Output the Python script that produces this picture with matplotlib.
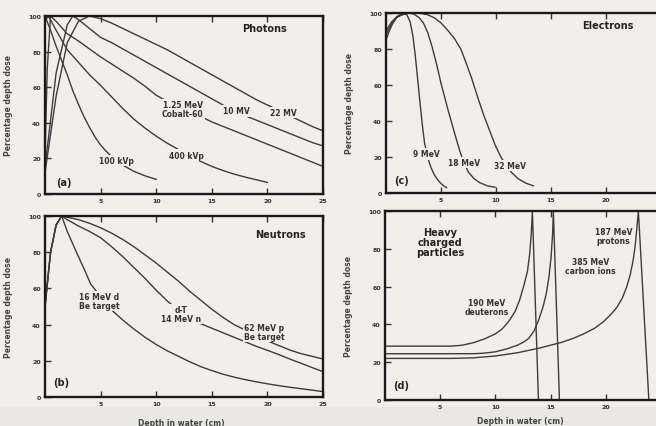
import matplotlib
matplotlib.use("Agg")
import matplotlib.pyplot as plt
from matplotlib.patches import Rectangle

# ---------------- data ----------------
# (a) Photons
ph_100kvp_x = [0, 0.5, 1, 1.5, 2, 2.5, 3, 3.5, 4, 4.5, 5, 5.5, 6, 6.5, 7, 8, 9, 10]
ph_100kvp_y = [100, 92, 83, 75, 67, 58, 50.5, 43.5, 37.5, 32, 27.5, 24, 21, 18.5, 16.2, 12.7, 10.2, 8.2]
ph_400kvp_x = [0, 0.3, 1, 2, 3, 4, 5, 6, 7, 8, 9, 10, 11, 12, 13, 14, 15, 16, 17, 18, 19, 20]
ph_400kvp_y = [97, 100, 92, 81, 74, 67, 61, 54.5, 48, 42, 37, 32.5, 28.5, 25, 21.5, 18.3, 15.5, 13.2, 11.2, 9.5, 8, 6.5]
ph_co60_x = [0, 0.2, 0.5, 1, 2, 3, 4, 5, 6, 7, 8, 9, 10, 11, 12, 13, 14, 15, 16, 17, 18, 19, 20, 21, 22, 23, 24, 25]
ph_co60_y = [22, 70, 100, 97, 90, 86, 81.5, 77, 73, 69, 65, 60.5, 55.5, 52, 49, 46, 43.5, 40.5, 38, 35.5, 33, 30.5, 28, 25.5, 23, 20.5, 18, 15.5]
ph_10mv_x = [0, 1, 2, 2.5, 3, 4, 5, 6, 7, 8, 9, 10, 11, 12, 13, 14, 15, 16, 17, 18, 19, 20, 21, 22, 23, 24, 25]
ph_10mv_y = [15, 68, 95, 100, 98, 93, 88, 85, 81.5, 78, 74.5, 71, 67.5, 64, 60.5, 57, 53.5, 50, 47, 44, 41.5, 39, 36.5, 34, 31.5, 29, 27]
ph_22mv_x = [0, 1, 2, 3, 4, 5, 6, 7, 8, 9, 10, 11, 12, 13, 14, 15, 16, 17, 18, 19, 20, 21, 22, 23, 24, 25]
ph_22mv_y = [12, 55, 85, 97, 100, 98.5, 96, 93, 90, 87, 84, 81, 77.5, 74, 70.5, 67, 63.5, 60, 56.5, 53, 50, 47, 44, 41, 38, 35.5]

# (b) Neutrons
n_16d_x = [0, 0.5, 1, 1.5, 2, 2.9, 3.5, 4.1, 5, 6, 7, 8, 9, 10, 11, 12, 13, 14, 15, 16, 17, 18, 19, 20, 21, 22, 23, 24, 25]
n_16d_y = [50, 80, 95, 100, 91.5, 79, 71, 62.5, 55.5, 48, 42.5, 37.5, 33, 29, 25.5, 22.5, 19.5, 16.8, 14.6, 12.6, 11, 9.6, 8.4, 7.3, 6.3, 5.4, 4.6, 3.8, 3]
n_dt_x = [0, 0.5, 1, 1.5, 2, 3, 4, 5, 6, 7, 8, 9, 10, 11, 12, 13, 14, 15, 16, 17, 18, 19, 20, 21, 22, 23, 24, 25]
n_dt_y = [50, 80, 95, 100, 98, 94.5, 91.5, 88, 83, 77.5, 71.5, 65.5, 59, 53, 48, 44, 40.5, 38, 35.5, 33, 30.5, 28, 25.8, 23.5, 21, 18.7, 16.3, 14]
n_62p_x = [0, 0.5, 1, 1.5, 3, 4, 5, 6, 7, 8, 9, 10, 11, 12, 13, 14, 15, 16, 17, 18, 19, 20, 21, 22, 23, 24, 25]
n_62p_y = [50, 80, 95, 100, 98, 96, 93.5, 90.5, 87, 83, 78.5, 74, 69, 64, 58.5, 53.5, 48.5, 44, 40, 37, 34, 31, 28.5, 26, 24, 22.5, 21]

# (c) Electrons
e_9_x = [0, 0.3, 0.6, 1, 1.5, 1.9, 2.2, 2.45, 2.65, 2.85, 3.06, 3.3, 3.5, 3.7, 3.9, 4.1, 4.4, 4.8, 5.2, 5.5]
e_9_y = [85, 90, 94, 98, 100, 99, 95, 87, 77, 65, 52, 38, 28, 22, 17.5, 14, 10, 6.5, 4.2, 3]
e_18_x = [0, 0.5, 1, 1.5, 2, 2.5, 3, 3.4, 3.8, 4.2, 4.6, 5, 5.6, 6.2, 6.7, 7.1, 7.5, 8, 8.5, 9.2, 9.9]
e_18_y = [88, 94, 97.5, 99.3, 100, 99.5, 97.5, 94.5, 89, 81, 71.5, 61, 47, 34, 23.5, 16.5, 11.5, 8, 5.8, 4, 3.2]
e_32_x = [0, 0.5, 1, 2, 3, 3.8, 4.4, 5, 5.6, 6.2, 6.8, 7.3, 7.8, 8.4, 8.9, 9.4, 9.9, 10.4, 10.9, 11.4, 12, 12.7, 13.4]
e_32_y = [90, 95, 98, 100, 100, 99, 97.3, 94.5, 90.5, 86, 80, 72, 63.5, 52, 43, 35, 27, 20.5, 15.5, 11.5, 8, 5.5, 4]

# (d) Heavy charged particles
h_d_x = [0, 2, 4, 6, 7, 8, 9, 10, 10.6, 11.2, 11.8, 12.2, 12.6, 12.9, 13.1, 13.25, 13.35, 13.9]
h_d_y = [28.5, 28.5, 28.5, 28.5, 29, 30.3, 32.3, 35, 37.5, 41.5, 47, 53, 61, 68, 77, 88, 100, 0]
h_c_x = [0, 2, 4, 6, 8, 9, 10, 11, 12, 12.6, 13, 13.5, 13.9, 14.3, 14.6, 14.85, 15.05, 15.18, 15.25, 15.8]
h_c_y = [24.5, 24.5, 24.5, 24.5, 24.5, 24.8, 25.5, 27, 29, 30.8, 32.5, 36.5, 42, 49, 56, 65, 76, 88, 100, 0]
h_p_x = [0, 4, 6, 8, 10, 12, 14, 16, 17, 18, 19, 19.8, 20.5, 21, 21.5, 21.9, 22.2, 22.45, 22.65, 22.8, 22.95, 23.9]
h_p_y = [22, 22, 22, 22.3, 23.3, 25, 27.5, 30.5, 32.5, 35, 38, 41.5, 45.5, 49, 54, 60, 66, 73, 81, 90, 100, 0]

x_ticks = [5, 10, 15, 20, 25]
y_ticks = [0, 20, 40, 60, 80, 100]

# ---------------- style ----------------
BG = "#f2efeb"
LC = "#3c3c3c"
FONT = "DejaVu Sans"
plt.rcParams["font.family"] = FONT

fig = plt.figure(figsize=(6.56, 4.27), dpi=100, facecolor=BG)
fig.patches.append(Rectangle((0, 0), 1, 19 / 427, transform=fig.transFigure,
                             facecolor="#e9e8e5", edgecolor="none", zorder=-5))


def setup(ax, xlabel=False, label_y=-0.115):
    ax.set_facecolor(BG)
    ax.set_xlim(0, 25)
    ax.set_ylim(0, 100)
    ax.set_xticks(x_ticks)
    ax.set_yticks(y_ticks)
    ax.tick_params(direction="in", length=4, width=1, top=True, right=False,
                   labelsize=4.5, colors="#333333", pad=3)
    for lab in ax.get_xticklabels() + ax.get_yticklabels():
        lab.set_fontweight("bold")
    for s in ax.spines.values():
        s.set_linewidth(1.7)
        s.set_color("#1a1a1a")
    ax.set_ylabel("Percentage depth dose", fontsize=5.5, fontweight="bold", color="#444444")
    ax.yaxis.set_label_coords(-0.115, 0.5)
    if xlabel:
        ax.set_xlabel("Depth in water (cm)", fontsize=5.5, fontweight="bold", color="#444444")
        ax.xaxis.set_label_coords(0.49, label_y)


def curve(ax, x, y):
    ax.plot(x, y, color=LC, lw=1.0, solid_joinstyle="round")


def label(ax, x, y, s, size=5.5):
    ax.text(x, y, s, fontsize=size, fontweight="bold", color="#333333",
            ha="center", va="center", linespacing=1.0, zorder=5,
            bbox=dict(boxstyle="square,pad=0.15", fc=BG, ec="none"))


def title(ax, x, y, s):
    ax.text(x, y, s, fontsize=7, fontweight="bold", color="#222222",
            ha="center", va="center", linespacing=1.0, zorder=5)


# (a)
ax_a = fig.add_axes([45 / 656, 1 - 195 / 427, 278 / 656, 178 / 427])
setup(ax_a)
for xs, ys in [(ph_100kvp_x, ph_100kvp_y), (ph_400kvp_x, ph_400kvp_y),
               (ph_co60_x, ph_co60_y), (ph_10mv_x, ph_10mv_y), (ph_22mv_x, ph_22mv_y)]:
    curve(ax_a, xs, ys)
label(ax_a, 6.4, 18.7, "100 kVp")
label(ax_a, 12.7, 21.9, "400 kVp")
label(ax_a, 12.4, 47.5, "1.25 MeV\nCobalt-60")
label(ax_a, 17.2, 46.7, "10 MV")
label(ax_a, 21.4, 45.8, "22 MV")
title(ax_a, 19.7, 93.5, "Photons")
title(ax_a, 1.7, 6.5, "(a)")

# (b)
ax_b = fig.add_axes([45 / 656, 1 - 398 / 427, 278 / 656, 181 / 427])
setup(ax_b, xlabel=True, label_y=-0.115)
for xs, ys in [(n_16d_x, n_16d_y), (n_dt_x, n_dt_y), (n_62p_x, n_62p_y)]:
    curve(ax_b, xs, ys)
label(ax_b, 4.9, 53.2, "16 MeV d\nBe target")
label(ax_b, 12.2, 45.9, "d-T\n14 MeV n")
label(ax_b, 19.7, 35.8, "62 MeV p\nBe target")
title(ax_b, 21.2, 89.9, "Neutrons")
title(ax_b, 1.5, 8.3, "(b)")

# (c)
ax_c = fig.add_axes([386 / 656, 1 - 194 / 427, 275 / 656, 180 / 427])
setup(ax_c)
for xs, ys in [(e_9_x, e_9_y), (e_18_x, e_18_y), (e_32_x, e_32_y)]:
    curve(ax_c, xs, ys)
label(ax_c, 3.7, 21.7, "9 MeV")
label(ax_c, 7.1, 17.1, "18 MeV")
label(ax_c, 11.3, 15.3, "32 MeV")
title(ax_c, 20.2, 93.6, "Electrons")
title(ax_c, 1.4, 7, "(c)")

# (d)
ax_d = fig.add_axes([385 / 656, 1 - 401 / 427, 276 / 656, 189 / 427])
setup(ax_d, xlabel=True, label_y=-0.085)
for xs, ys in [(h_d_x, h_d_y), (h_c_x, h_c_y), (h_p_x, h_p_y)]:
    curve(ax_d, xs, ys)
title(ax_d, 5.0, 83.6, "Heavy\ncharged\nparticles")
label(ax_d, 9.2, 49, "190 MeV\ndeuterons")
label(ax_d, 18.6, 71, "385 MeV\ncarbon ions")
label(ax_d, 20.7, 87, "187 MeV\nprotons")
title(ax_d, 1.5, 8, "(d)")

fig.savefig("out.png", dpi=100, facecolor=BG)
